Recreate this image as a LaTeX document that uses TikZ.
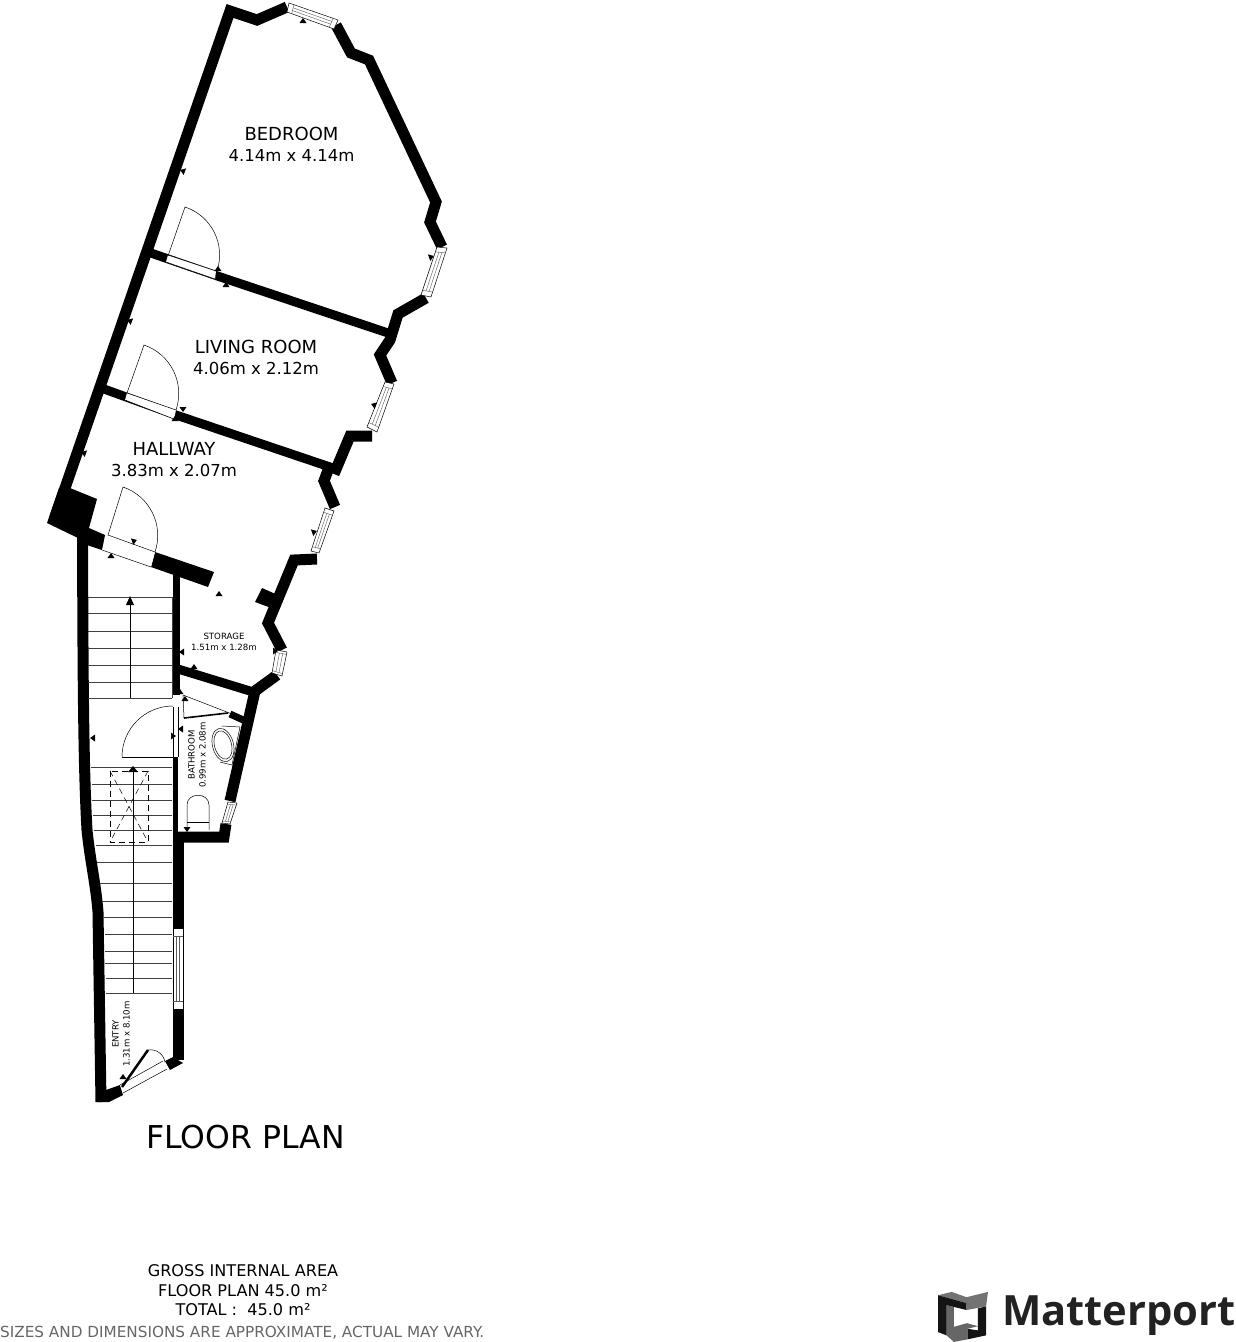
\documentclass[tikz,border=0pt]{standalone}
\usepackage{xcolor}
\usepackage{fontspec}
\setmainfont{DejaVu Sans}
\newfontfamily\brandfont{Open Sans}
\usetikzlibrary{calc}
\definecolor{brandgrey}{HTML}{222222}
\tikzset{
	wall/.style={line width=11, miter limit=10, join=miter},
	partition/.style={line width=9, miter limit=10},
	thinline/.style={line width=0.5},
	windowline/.style={line width=0.4, color=black!65},
	tread/.style={line width=1, color=black!75},
	swing/.style={line width=0.5, bend left=45},
	bigroom/.style={align=center, font=\fontsize{16.5}{21}\selectfont},
	smallroom/.style={align=center, font=\fontsize{8.6}{11}\selectfont},
	areatext/.style={align=center, font=\fontsize{16.1}{19.5}\selectfont},
}
\newcommand{\windowbox}[4]{
	\draw[thinline, fill=white] #1--#2--#3--#4--cycle;
	\draw[windowline] ($#1!.1!#2$)--($#4!.1!#3$);
	\draw[windowline] ($#1!.9!#2$)--($#4!.9!#3$);
	\draw[windowline] ($($#1!.1!#2$)!.35!($#4!.1!#3$)$)--($($#1!.9!#2$)!.35!($#4!.9!#3$)$);
	\draw[windowline] ($($#1!.1!#2$)!.65!($#4!.1!#3$)$)--($($#1!.9!#2$)!.65!($#4!.9!#3$)$);
}
\newcommand{\doorgap}[4]{
	\fill[white] #1--#2--#3--#4--cycle;
	\draw[thinline] #1--#2;
	\draw[thinline] #4--#3;
}

\begin{document}
\begin{tikzpicture}[x=1pt, y=-1pt]
\useasboundingbox (0,0) rectangle (1236,1342);

\draw[wall] (55,517)--(230,11)--(257,20)--(287,7);
\draw[wall] (336,25)--(351,53)--(369,60)--(436,202)--(430,222)--(442,247);
\draw[wall] (426,298)--(398,314)--(390,340)--(380,355)--(392,383);
\draw[wall] (372,436)--(350,436)--(334,474);
\draw[wall] (328,470)--(324,481)--(335,507);
\draw[wall] (317,559)--(294,560)--(268,623)--(282,650);
\draw[wall] (277,675)--(255,691)--(230,801);
\draw[wall] (226,824)--(224,837)--(173,837);
\draw[wall] (178,832)--(178,928);
\draw[wall] (178,1009)--(178,1060);
\draw[wall] (82.5,535) .. controls (83,650) and (83,760) .. (87,830) .. controls (90,860) and (96,885) .. (98,912)--(101,1102);
\draw[line width=7] (176.5,570)--(176.5,695);
\draw[line width=5] (175.5,757)--(175.5,835);

\draw[partition] (148,252)--(216,275.5)--(388,333);
\draw[partition] (104,389)--(176,415)--(333,468);
\draw[partition] (178,669)--(250,691);
\draw[line width=7] (230,714)--(250,723);

\fill (59,488)--(70,488)--(97,499)--(89,528)--(105,535)--(102,550)--(87,545)--(78,538)--(47,523)--cycle;
\fill (155,552)--(214,572)--(208,587)--(151,567)--cycle;
\fill (262,588)--(280,596)--(274,609)--(255,602)--cycle;
\fill (97,1102)--(109,1102)--(123,1095)--(120,1085)--(106,1090)--cycle;
\fill (165,1061)--(173,1057)--(183,1063)--(170,1070)--cycle;

\windowbox{(289,3)}{(338,20)}{(334,29)}{(287,12)}
\windowbox{(447,248)}{(431,297)}{(421,295)}{(437,247)}
\windowbox{(394,384)}{(377,432)}{(367,427)}{(385,382)}
\windowbox{(334,511)}{(319,553)}{(311,551)}{(325,508)}
\windowbox{(287,652)}{(282,676)}{(272,673)}{(276,650)}
\windowbox{(237,803)}{(230,824)}{(222,823)}{(228,802)}
\windowbox{(183,928)}{(183,1009)}{(173,1009)}{(173,928)}

\doorgap{(168,255)}{(216,271)}{(215,279)}{(166,262)}
\doorgap{(127,393)}{(176,410)}{(174,419)}{(125,400)}
\doorgap{(108,535)}{(155,552)}{(151,567)}{(102,550)}
\doorgap{(163,1061)}{(120,1085)}{(123,1093)}{(167,1069)}
\doorgap{(178,707)}{(178,757)}{(173,757)}{(173,707)}

\draw[swing] (168,256)--(185,207) to (217,271);
\draw[swing] (127,393)--(144,345) to (176,410);
\draw[swing] (108,535)--(123,487) to (155,552);
\draw[thinline] (122,757)--(173,757);
\draw[swing] (122,757) to (173,706);
\draw[line width=2.5] (122,1087)--(148,1050);
\draw[swing] (148,1050) to (165,1062);

\foreach \y in {597,613,631,648,665,682,698}{
	\draw[tread] (88,\y)--(172,\y);
}
\draw[tread] (172,597)--(172,698);
\foreach \y/\x in {767/91,784/92,800/92,815/93,830/94,845/96,862/97,883/100,901/102,917/104,934/105,951/105,963/105,978/106,993/106}{
	\draw[tread] (\x,\y)--(172,\y);
}
\draw[thinline] (130,698)--(130,600);
\fill (130,596)--(126,605)--(134,605)--cycle;
\draw[line width=0.8] (133,993)--(133,770);
\fill (133,766)--(128,772)--(138,772)--cycle;
\draw[line width=0.8, dash pattern=on 6 off 4] (110,771) rectangle (148,842);
\draw[thinline, dash pattern=on 6 off 4] (110,771)--(148,842);
\draw[thinline, dash pattern=on 6 off 4] (148,771)--(110,842);

\draw[thinline] (183,695)--(232,714);
\draw[thinline] (183,695)--(184,718);
\draw[line width=1.6] (184,718)--(228,713);
\draw[thinline, rotate around={15:(223,745)}] (223,745) ellipse (10.5 and 17);
\draw[thinline, rotate around={15:(223,745)}] (223,745) ellipse (8.5 and 14.5);
\draw[thinline] (222,726)--(240,727)--(232,765)--(220,762);
\draw[thinline] (187,830)--(187,805) .. controls (187,792) and (209,792) .. (209,805)--(209,830);
\draw[thinline] (187,822)--(209,822);

\foreach \x/\y/\a in {183/171/70,130/321/70,303/21/0,431/257/-70,218/269/0,226/285/0,183/409/180,175/419/0,84/453/70,134/541/-70,111/556/0,219/594/0,314/532/-70,374/405/70,182/652/90,194/667/0,275/651/-90,185/699/0,181/729/90,173/736/-90,93/738/90,187/829/180,123/1077/0,180/692/0}{
	\fill[shift={(\x,\y)}, rotate=\a] (-3.5,2)--(3.5,2)--(0,-3)--cycle;
}

\node[bigroom] (bedroom) at (291.5,144) {{\fontsize{18}{21}\selectfont BEDROOM}\\4.14m x 4.14m};
\node[bigroom] (livingroom) at (256,357.5) {{\fontsize{18}{21}\selectfont LIVING ROOM}\\4.06m x 2.12m};
\node[bigroom] (hallway) at (174,460) {{\fontsize{18}{21}\selectfont HALLWAY}\\3.83m x 2.07m};
\node[smallroom] (storage) at (224,642) {STORAGE\\1.51m x 1.28m};
\node[smallroom, rotate=90] (bathroom) at (197,755) {BATHROOM\\0.99m x 2.08m};
\node[smallroom, rotate=90] (entry) at (121,1034) {ENTRY\\1.31m x 8.10m};
\node[font=\fontsize{31.5}{36}\selectfont] (floorplan) at (245.5,1137) {FLOOR PLAN};
\node[areatext] (area) at (243,1290.5) {GROSS INTERNAL AREA\\FLOOR PLAN 45.0 m²\\TOTAL :\ \ 45.0 m²};
\node[font=\fontsize{15.25}{18}\selectfont, color=black!60, anchor=west, inner sep=0] (disclaimer) at (0,1333) {SIZES AND DIMENSIONS ARE APPROXIMATE, ACTUAL MAY VARY.};
\node[font=\fontsize{41.7}{44}\brandfont\bfseries, color=brandgrey, anchor=east, inner sep=0] (brand) at (1236,1316) {Matterport};

\begin{scope}[shift={(928.75,1286)}, x=0.37pt, y=-0.329pt]
\fill[black!55] (25,28)--(62,18)--(102,34)--(160,18)--(155,62)--(102,73)--(102,52)--cycle;
\fill[black!60] (48,58)--(68,64)--(68,170)--(48,150)--cycle;
\fill[black!60] (68,124)--(103,113)--(133,122)--(105,130)--(105,162)--(68,170)--cycle;
\fill[black!92] (25,28)--(102,52)--(102,73)--(48,58)--(48,150)--(25,140)--cycle;
\fill[black!92] (133,68)--(155,62)--(155,150)--(105,162)--(105,130)--(133,135)--cycle;
\end{scope}

\end{tikzpicture}
\end{document}
